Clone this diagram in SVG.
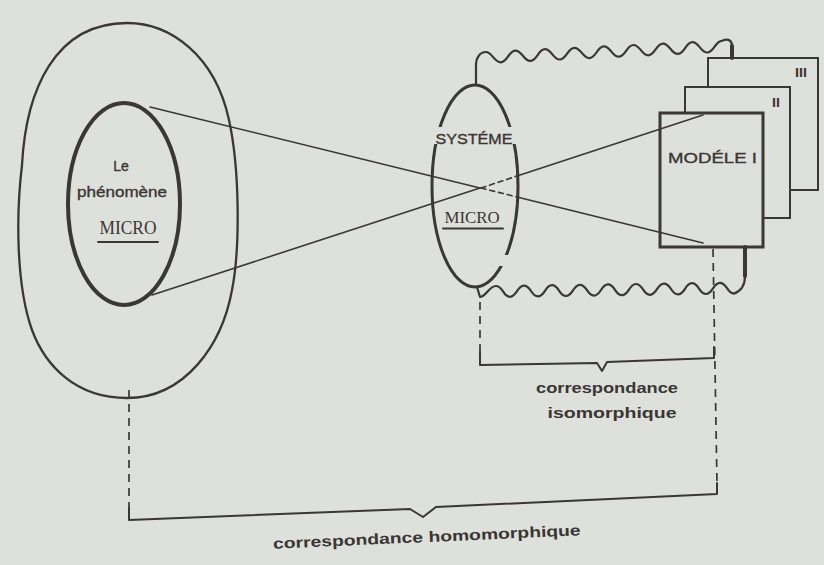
<svg xmlns="http://www.w3.org/2000/svg" width="824" height="565" viewBox="0 0 824 565">
<style>
.ink{fill:none;stroke:#3b3734;stroke-linecap:round;stroke-linejoin:round}
.box{fill:#dee0db;stroke:#3b3734;stroke-linejoin:miter}
.bg{fill:#dee0db;stroke:none}
.dash{fill:none;stroke:#3b3734;stroke-width:1.7;stroke-dasharray:8 6}
.sans{font-family:"Liberation Sans",Arial,sans-serif;fill:#3a3633;stroke:#3a3633;stroke-width:0.35}
.mono{font-family:"Liberation Serif","Times New Roman",serif;fill:#3a3633}
.b{font-weight:bold;stroke-width:0}
</style>
<rect x="0" y="0" width="824" height="565" class="bg"/>

<g id="phenomene">
  <path class="ink" stroke-width="2.3" d="M127,23 C170,23 215,55 229,120 C240,170 240,250 232,290 C222,345 185,398 127,398 C75,398 45,365 32,330 C16,285 16,215 22,165 C26,90 55,23 127,23 Z"/>
  <ellipse class="ink" stroke-width="4" cx="124" cy="204" rx="56" ry="101"/>
  <text class="sans" x="121" y="171" font-size="14" text-anchor="middle">Le</text>
  <text class="sans" x="122" y="197" font-size="15" text-anchor="middle" textLength="90" lengthAdjust="spacingAndGlyphs">phénomène</text>
  <text class="mono" x="128" y="234" font-size="18" text-anchor="middle" textLength="57" lengthAdjust="spacingAndGlyphs">MICRO</text>
  <line class="ink" stroke-width="2" x1="98" y1="242" x2="158" y2="242"/>
</g>

<g id="systeme">
  <ellipse class="ink" stroke-width="3" cx="475" cy="186" rx="43" ry="101"/>
  <rect class="bg" x="428" y="127" width="92" height="17"/>
  <rect class="bg" x="497" y="255" width="16" height="11"/>
  <text class="sans" x="474" y="143.5" font-size="14" text-anchor="middle" textLength="77" lengthAdjust="spacingAndGlyphs">SYSTÉME</text>
  <text class="mono" x="472" y="223" font-size="17" text-anchor="middle" textLength="55" lengthAdjust="spacingAndGlyphs">MICRO</text>
  <line class="ink" stroke-width="2" x1="443" y1="228.5" x2="503" y2="228.5"/>
</g>

<g id="modeles">
  <g id="modele3">
    <rect class="box" x="708" y="58" width="110" height="132" stroke-width="2"/>
    <text class="sans b" x="801" y="77" font-size="12" text-anchor="middle" textLength="12" lengthAdjust="spacingAndGlyphs">III</text>
  </g>
  <g id="modele2">
    <rect class="box" x="685" y="87" width="105" height="131" stroke-width="2"/>
    <text class="sans b" x="776" y="107" font-size="12" text-anchor="middle" textLength="8" lengthAdjust="spacingAndGlyphs">II</text>
  </g>
  <g id="modele1">
    <rect class="box" x="660" y="113" width="103" height="134" stroke-width="3"/>
    <text class="sans" x="668" y="163" font-size="15" textLength="89" lengthAdjust="spacingAndGlyphs">MODÉLE I</text>
  </g>
</g>

<g id="connectors">
  <!-- projection lines -->
  <line class="ink" stroke-width="1.6" x1="150" y1="107" x2="480" y2="188"/>
  <line class="ink" stroke-width="1.6" x1="517" y1="197" x2="703" y2="243"/>
  <line class="ink" stroke-width="1.6" x1="152" y1="295" x2="480" y2="188"/>
  <line class="ink" stroke-width="1.6" x1="517" y1="176" x2="703" y2="115"/>
  <line class="ink" stroke-width="1.6" stroke-dasharray="5 4" x1="481" y1="188" x2="517" y2="197"/>
  <line class="ink" stroke-width="1.6" stroke-dasharray="5 4" x1="481" y1="188" x2="517" y2="176"/>

  <!-- top wavy line -->
  <path class="ink" stroke-width="2.2" d="M476,85 L476,64 C476,58 480,52 486,52 s8,10.3 14.75,10.3 s8,-11.7 14.75,-11.7 s8,10.3 14.75,10.3 s8,-11.7 14.75,-11.7 s8,10.3 14.75,10.3 s8,-11.7 14.75,-11.7 s8,10.3 14.75,10.3 s8,-11.7 14.75,-11.7 s8,10.3 14.75,10.3 s8,-11.7 14.75,-11.7 s8,10.3 14.75,10.3 s8,-11.7 14.75,-11.7 s8,10.3 14.75,10.3 s8,-11.7 14.75,-11.7 s8,10.3 14.75,10.3 s8,-11.7 14.75,-11.7 C729,38 732,41 732,46"/>
  <line class="ink" stroke-width="4" x1="732" y1="46" x2="732" y2="58"/>

  <!-- bottom wavy line -->
  <path class="ink" stroke-width="2.2" d="M477,287 L480,297 C486,297 489,286 496,286 s7,10.8 14,10.8 s7,-11.2 14,-11.2 s7,10.8 14,10.8 s7,-11.2 14,-11.2 s7,10.8 14,10.8 s7,-11.2 14,-11.2 s7,10.8 14,10.8 s7,-11.2 14,-11.2 s7,10.8 14,10.8 s7,-11.2 14,-11.2 s7,10.8 14,10.8 s7,-11.2 14,-11.2 s7,10.8 14,10.8 s7,-11.2 14,-11.2 s7,10.8 14,10.8 s7,-11.2 14,-11.2 s7,10.8 14,10.8 C741,291 745,286 745,276"/>
  <line class="ink" stroke-width="4" x1="745" y1="247" x2="745" y2="276"/>

  <!-- dashed guides -->
  <line class="dash" x1="480" y1="302" x2="480" y2="352"/>
  <line class="dash" x1="713" y1="249" x2="717" y2="484"/>
  <line class="dash" x1="129" y1="390" x2="129" y2="508"/>

  <!-- brackets -->
  <path class="ink" stroke-width="2" d="M480,352 L480,365 L597,363 L602,371 L607,362 L714,358 L714,347"/>
  <path class="ink" stroke-width="2" d="M129,508 L129,520 L410,509 L423,517 L436,507 L717,494 L717,483"/>
</g>

<g id="labels">
  <text class="sans b" x="607" y="393" font-size="15" text-anchor="middle" textLength="142" lengthAdjust="spacingAndGlyphs">correspondance</text>
  <text class="sans b" x="612" y="418" font-size="15" text-anchor="middle" textLength="129" lengthAdjust="spacingAndGlyphs">isomorphique</text>
  <text class="sans b" x="427" y="542" font-size="15" text-anchor="middle" textLength="308" lengthAdjust="spacingAndGlyphs" transform="rotate(-2.5 427 542)">correspondance homomorphique</text>
</g>
</svg>
